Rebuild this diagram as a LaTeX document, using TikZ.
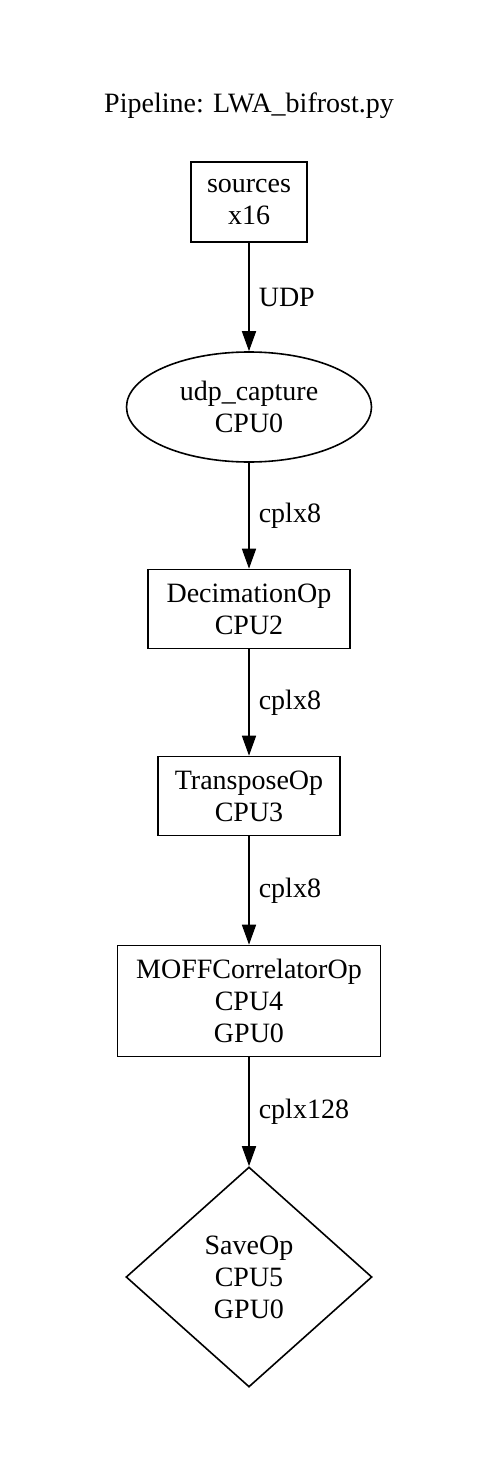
\documentclass[tikz,border=0pt]{standalone}
\usepackage{fontspec}
\setmainfont{Liberation Serif}
\usepackage{tikz}
\usetikzlibrary{arrows.meta,shapes.geometric}

\begin{document}
\begin{tikzpicture}[x=1pt, y=-1pt]
    \tikzset{block/.style = {shape=rectangle, draw, line width=1.6pt, align=center, inner sep=0pt, font=\fontsize{28}{32}\selectfont}}
    \tikzset{edge/.style = {draw, line width=1.6pt, ->, >={Triangle[length=20pt, width=14pt]}}}
    \tikzset{lbl/.style = {anchor=west, inner sep=0pt, xshift=9pt, font=\fontsize{28}{32}\selectfont}}

    \useasboundingbox (0,0) rectangle (498,1471);

    % title
    \node[font=\fontsize{28}{32}\selectfont] (title) at (249,106) {Pipeline: LWA\_bifrost.py};

    % vertices
    \node[block, minimum width=116pt, minimum height=80pt] (src) at (249,202) {sources\\x16};
    \node[block, ellipse, minimum width=245pt, minimum height=110pt] (udp) at (249,407) {udp\_capture\\CPU0};
    \node[block, minimum width=202pt, minimum height=79pt] (deci) at (249,609) {DecimationOp\\CPU2};
    \node[block, minimum width=182pt, minimum height=79pt] (trans) at (249,796) {TransposeOp\\CPU3};
    \node[block, minimum width=263pt, minimum height=111pt] (moff) at (249,1001) {MOFFCorrelatorOp\\CPU4\\GPU0};
    \node[block, diamond, shape aspect=1.12, minimum width=246pt, minimum height=220pt] (save) at (249,1277) {SaveOp\\CPU5\\GPU0};

    % edges
    \draw[edge] (src) -- node[lbl, midway]{UDP} (udp);
    \draw[edge] (udp) -- node[lbl, midway]{cplx8} (deci);
    \draw[edge] (deci) -- node[lbl, midway]{cplx8} (trans);
    \draw[edge] (trans) -- node[lbl, midway]{cplx8} (moff);
    \draw[edge] (moff) -- node[lbl, midway]{cplx128} (save);
\end{tikzpicture}
\end{document}
